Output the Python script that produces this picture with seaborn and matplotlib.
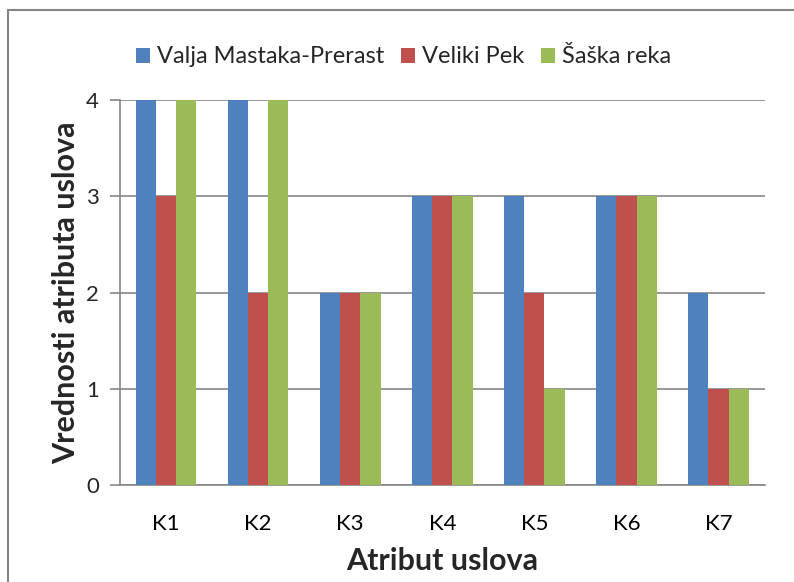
import matplotlib
matplotlib.use("Agg")
import matplotlib.pyplot as plt
import matplotlib.patches as mpatches
import pandas as pd
import seaborn as sns

# data
categories = ["K1", "K2", "K3", "K4", "K5", "K6", "K7"]
series_names = ["Valja Mastaka-Prerast", "Veliki Pek", "Šaška reka"]
valja = [4, 4, 2, 3, 3, 3, 2]
veliki_pek = [3, 2, 2, 3, 2, 3, 1]
saska = [4, 4, 2, 3, 1, 3, 1]
colors = ["#4F81BD", "#C0504D", "#9BBB59"]

df = pd.DataFrame({
    "kategorija": categories * 3,
    "serija": [series_names[0]] * 7 + [series_names[1]] * 7 + [series_names[2]] * 7,
    "vrednost": valja + veliki_pek + saska,
})

sns.set_theme(style="white")
plt.rcParams["font.family"] = ["Lato", "DejaVu Sans"]
grid_gray = "#868686"

fig = plt.figure(figsize=(7.94, 5.82), dpi=100)
ax = fig.add_axes([0.151, 0.1667, 0.812, 0.661])

sns.barplot(data=df, x="kategorija", y="vrednost", hue="serija",
            palette=colors, width=0.66, saturation=1, linewidth=0, ax=ax, zorder=3)

ax.set_ylim(0, 4)
ax.set_xlim(-0.5, 6.5)
ax.set_yticks([0, 1, 2, 3, 4])
ax.yaxis.grid(True, color=grid_gray, linewidth=1.2, zorder=0)
ax.set_axisbelow(True)

# category boundary ticks on x axis
ax.set_xticks([i - 0.5 for i in range(8)], minor=True)
ax.tick_params(axis="x", which="major", length=0, pad=21, labelsize=16, colors="black")
ax.tick_params(axis="x", which="minor", length=7, width=1.2, color=grid_gray, direction="out")
ax.tick_params(axis="y", length=7, width=1.2, color=grid_gray, pad=8, labelsize=16, left=True)

for side in ["top", "right"]:
    ax.spines[side].set_visible(False)
for side in ["left", "bottom"]:
    ax.spines[side].set_color(grid_gray)
    ax.spines[side].set_linewidth(1.2)

ax.set_xlabel("Atribut uslova", fontsize=22, fontweight="bold", labelpad=9)
ax.set_ylabel("Vrednosti atributa uslova", fontsize=22, fontweight="bold")
ax.yaxis.set_label_coords(-0.062, 0.5)

handles, labels = ax.get_legend_handles_labels()
ax.legend(handles, labels, loc="lower center", bbox_to_anchor=(0.44, 1.03), ncol=3,
          frameon=False, fontsize=17, handlelength=0.6, handleheight=0.6,
          handletextpad=0.3, columnspacing=0.7)

# chart area border
fig.patches.append(mpatches.Rectangle((0.010, -0.1), 1.2, 1.083, transform=fig.transFigure,
                                      fill=False, edgecolor=grid_gray, linewidth=1.5))

fig.savefig("out.png", dpi=100)
